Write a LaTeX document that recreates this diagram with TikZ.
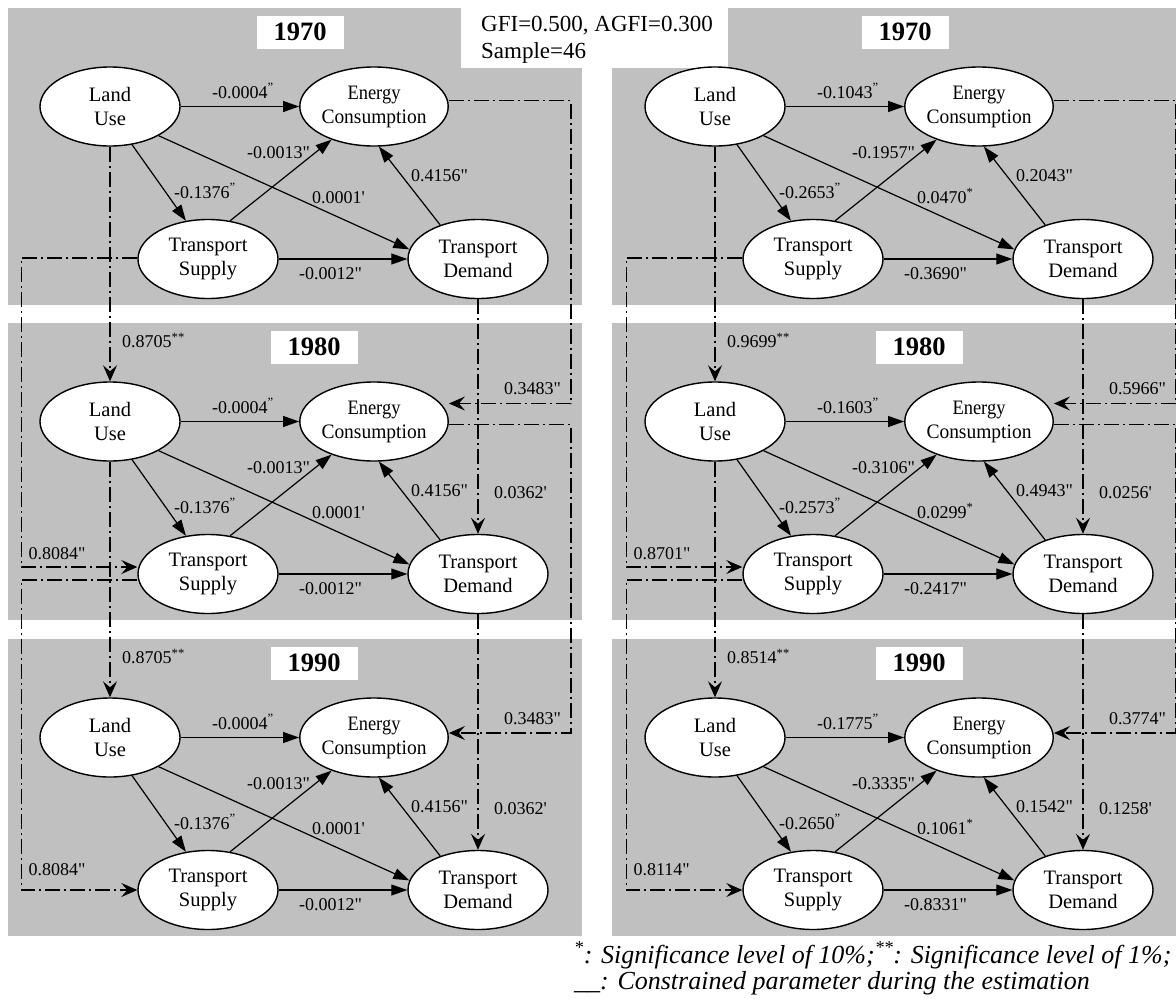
\documentclass[tikz,border=0pt]{standalone}
\usepackage{fontspec}
\setmainfont{Liberation Serif}[Ligatures=TeXOff]
\usepackage{graphicx}
\usetikzlibrary{arrows.meta,shapes.geometric,calc}
\definecolor{panelgrey}{RGB}{192,192,192}
\newcommand{\Dq}{\textsuperscript{”}}
\newcommand{\Sg}{\textsuperscript{*}}
\newcommand{\SSg}{\textsuperscript{**}}
\tikzset{
  var/.style={ellipse, draw, line width=1.4pt, fill=white, minimum width=140pt,
    minimum height=79pt, inner sep=0pt, align=center,
    font=\fontsize{20.5pt}{24pt}\selectfont},
  eff/.style={line width=1.2pt, -{Triangle[length=16pt,width=11pt]}},
  lag/.style={line width=1.2pt, dash pattern=on 15pt off 4pt on 2pt off 4pt,
    -{Stealth[length=16pt,width=14pt,inset=6pt]}},
  coef/.style={anchor=base west, inner sep=0pt, font=\fontsize{18pt}{20pt}\selectfont},
  yearbox/.style={fill=white, minimum width=87pt, minimum height=33pt, inner sep=0pt,
    font=\fontsize{26.5pt}{30pt}\selectfont\bfseries},
  note/.style={anchor=base west, inner sep=0pt, font=\fontsize{23pt}{26pt}\selectfont},
  foot/.style={anchor=base west, inner sep=0pt, font=\fontsize{26pt}{30pt}\selectfont\itshape},
}
% #1 suffix, #2 xoff, #3 base, #4 year, #5 year box x
\newcommand{\SEMpanel}[5]{%
\begin{scope}[shift={(#2,#3)}]
  \node[var] (LU#1) at (110,106.5) {Land\\Use};
  \node[var] (EC#1) at (374,106.5) {\scalebox{0.9}[1]{Energy}\\\scalebox{0.95}[1]{Consumption}};
  \node[var] (TS#1) at (208,259) {Transport\\Supply};
  \node[var] (TD#1) at (478,259) {Transport\\Demand};
  \node[yearbox] (Y#1) at (#5,32) {#4};
  \draw[eff] (LU#1) -- (EC#1);
  \draw[eff] (LU#1.-60) -- (TS#1.120);
  \draw[eff] (LU#1.-31) -- (TD#1.172);
  \draw[eff] (TS#1.60) -- (EC#1.-142);
  \draw[eff] (TD#1.138) -- (EC#1.-83);
  \draw[eff] (TS#1) -- (TD#1);
\end{scope}}
% #1 suffix, #2 xoff, #3 base, #4 lu-ec, #5 lu-ts, #6 lu-td, #7 ts-ec, #8 td-ec, #9 ts-td
\newcommand{\SEMcoef}[9]{%
\begin{scope}[shift={(#2,#3)}]
  \node[coef] (cA#1) at (212,98) {#4};
  \node[coef] (cB#1) at (174,198) {#5};
  \node[coef] (cC#1) at (312,203) {#6};
  \node[coef] (cD#1) at (247,158) {#7};
  \node[coef] (cE#1) at (411,181) {#8};
  \node[coef] (cF#1) at (299,279) {#9};
\end{scope}}
% #1 from, #2 to, #3 EC out dy, #4 EC in dy, #5 TS out dy, #6 TS in dy
\newcommand{\SEMlag}[6]{%
  \draw[lag] (LU#1) -- (LU#2);
  \draw[lag] ($(EC#1.east)+(0,#3)$) -- ++(122,0) |- ($(EC#2.east)+(0,#4)$);
  \draw[lag] ($(TS#1.west)+(0,#5)$) -- ++(-116,0) |- ($(TS#2.west)+(0,#6)$);
  \draw[lag] (TD#1) -- (TD#2);}
% #1 to, #2 EC in dy, #3 LU label, #4 EC label, #5 TS label, #6 TD label
\newcommand{\SEMlaglab}[6]{%
  \node[coef] (lLU#1) at ($(LU#1.north)+(12,-34)$) {#3};
  \node[coef] (lEC#1) at ($(EC#1.east)+(55,#2-9)$) {#4};
  \node[coef] (lTS#1) at ($(TS#1.west)+(-109,-15)$) {#5};
  \node[coef] (lTD#1) at ($(TD#1.north)+(16,-35.5)$) {#6};}
\begin{document}
\begin{tikzpicture}[x=1pt,y=-1pt]
\useasboundingbox (0,0) rectangle (1176,999);
\foreach \yy in {8,323,639}{
  \fill[panelgrey] (8,\yy) rectangle (582,\yy+297);
  \fill[panelgrey] (612,\yy) rectangle (1176,\yy+297);
}
\fill[white] (461,0) rectangle (728,68);
\node[note] (gfi) at (481,31.5) {GFI=0.500, AGFI=0.300};
\node[note] (sample) at (481,58) {Sample=46};

\SEMpanel{L70}{0}{0}{1970}{300}
\SEMpanel{L80}{0}{315}{1980}{314}
\SEMpanel{L90}{0}{631}{1990}{314}
\SEMpanel{R70}{605}{0}{1970}{300}
\SEMpanel{R80}{605}{315}{1980}{314}
\SEMpanel{R90}{605}{631}{1990}{314}

\SEMcoef{L70}{0}{0}{-0.0004\Dq}{-0.1376\Dq}{0.0001'}{-0.0013"}{0.4156"}{-0.0012"}
\SEMcoef{L80}{0}{315}{-0.0004\Dq}{-0.1376\Dq}{0.0001'}{-0.0013"}{0.4156"}{-0.0012"}
\SEMcoef{L90}{0}{631}{-0.0004\Dq}{-0.1376\Dq}{0.0001'}{-0.0013"}{0.4156"}{-0.0012"}
\SEMcoef{R70}{605}{0}{-0.1043\Dq}{-0.2653\Dq}{0.0470\Sg}{-0.1957"}{0.2043"}{-0.3690"}
\SEMcoef{R80}{605}{315}{-0.1603\Dq}{-0.2573\Dq}{0.0299\Sg}{-0.3106"}{0.4943"}{-0.2417"}
\SEMcoef{R90}{605}{631}{-0.1775\Dq}{-0.2650\Dq}{0.1061\Sg}{-0.3335"}{0.1542"}{-0.8331"}

\SEMlag{L70}{L80}{-6}{-18}{-1}{-7}
\SEMlag{L80}{L90}{3}{-4.5}{6}{0}
\SEMlag{R70}{R80}{-6}{-18}{-1}{-7}
\SEMlag{R80}{R90}{3}{-4.5}{6}{0}

\SEMlaglab{L80}{-18}{0.8705\SSg}{0.3483"}{0.8084"}{0.0362'}
\SEMlaglab{L90}{-4.5}{0.8705\SSg}{0.3483"}{0.8084"}{0.0362'}
\SEMlaglab{R80}{-18}{0.9699\SSg}{0.5966"}{0.8701"}{0.0256'}
\SEMlaglab{R90}{-4.5}{0.8514\SSg}{0.3774"}{0.8114"}{0.1258'}

\node[foot] (foot1) at (574,963) {\textsuperscript{*}: Significance level of 10\%;\textsuperscript{**}: Significance level of 1\%;};
\node[foot] (foot2) at (574,989) {\_\_: Constrained parameter during the estimation};
\end{tikzpicture}
\end{document}
